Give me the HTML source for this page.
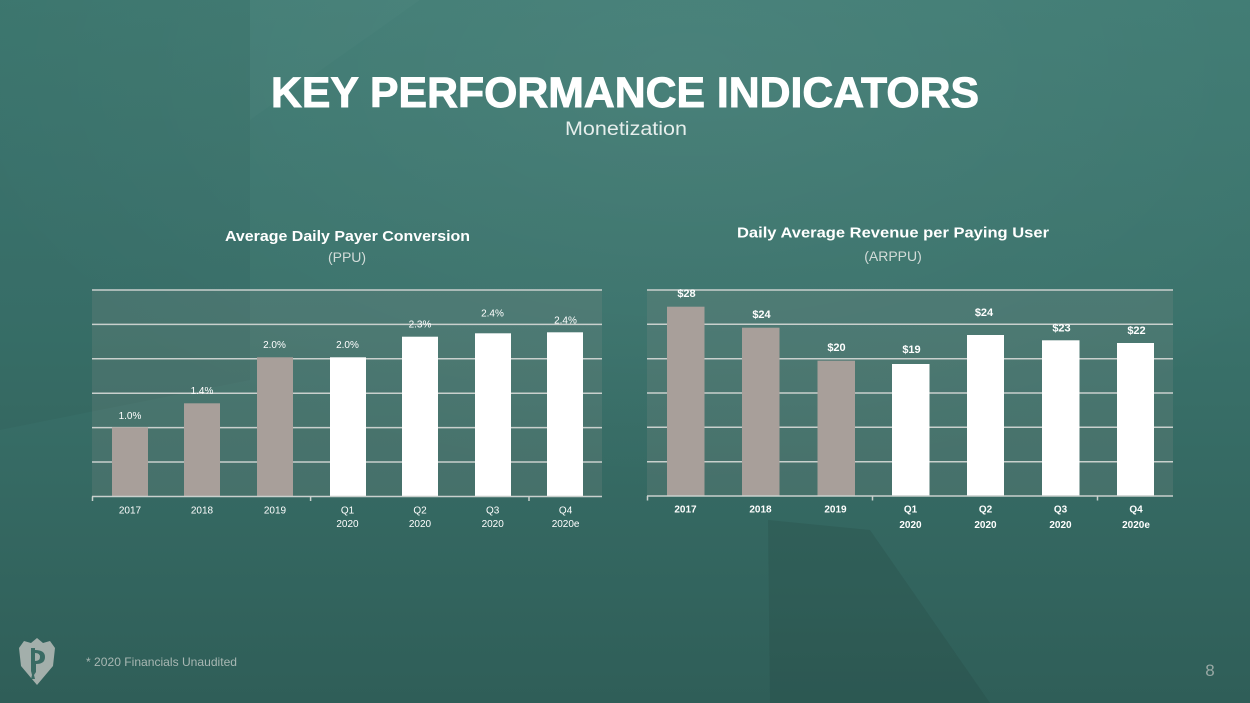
<!DOCTYPE html>
<html>
<head>
<meta charset="utf-8">
<style>
  html,body{margin:0;padding:0;background:#3a716a;}
  body{width:1250px;height:703px;overflow:hidden;}
  svg{display:block;}
  text{font-family:"Liberation Sans",Arial,sans-serif;}
</style>
</head>
<body>
<svg width="1250" height="703" viewBox="0 0 1250 703" xmlns="http://www.w3.org/2000/svg">
  <defs>
    <linearGradient id="bg" x1="0" y1="0" x2="0" y2="1">
      <stop offset="0" stop-color="#3f7b73"/>
      <stop offset="0.45" stop-color="#3a726b"/>
      <stop offset="1" stop-color="#2f5e58"/>
    </linearGradient>
    <radialGradient id="glow" cx="0.55" cy="0.1" r="0.6">
      <stop offset="0" stop-color="#ffffff" stop-opacity="0.06"/>
      <stop offset="1" stop-color="#ffffff" stop-opacity="0"/>
    </radialGradient>
  </defs>

  <!-- background -->
  <rect x="0" y="0" width="1250" height="703" fill="url(#bg)"/>
  <rect x="0" y="0" width="1250" height="703" fill="url(#glow)"/>
  <polygon points="0,0 250,0 250,380 0,430" fill="#000" opacity="0.035"/>
  <polygon points="768,520 870,530 990,703 770,703" fill="#1f3b38" opacity="0.18"/>
  <polygon points="250,0 420,0 250,120" fill="#ffffff" opacity="0.02"/>

  <!-- Title -->
  <text x="625" y="107" font-size="43" font-weight="bold" fill="#ffffff" stroke="#ffffff" stroke-width="0.9" text-anchor="middle" textLength="708" lengthAdjust="spacingAndGlyphs">KEY PERFORMANCE INDICATORS</text>
  <text x="626" y="135" font-size="19" fill="#e6eeec" text-anchor="middle" textLength="122" lengthAdjust="spacingAndGlyphs">Monetization</text>

  <!-- Chart titles -->
  <text x="347.5" y="241" font-size="15" font-weight="bold" fill="#ffffff" text-anchor="middle" textLength="245" lengthAdjust="spacingAndGlyphs">Average Daily Payer Conversion</text>
  <text x="347" y="262" font-size="14" fill="#d3dcd9" text-anchor="middle">(PPU)</text>
  <text x="893" y="237.5" font-size="15" font-weight="bold" fill="#ffffff" text-anchor="middle" textLength="312" lengthAdjust="spacingAndGlyphs">Daily Average Revenue per Paying User</text>
  <text x="893" y="261" font-size="14" fill="#d3dcd9" text-anchor="middle">(ARPPU)</text>

  <!-- LEFT CHART -->
  <rect x="92" y="290" width="510" height="206.5" fill="#8a8f8c" opacity="0.2"/>
  <g stroke="#c9d0cd" stroke-width="1.5">
    <line x1="92" y1="290" x2="602" y2="290"/>
    <line x1="92" y1="324.4" x2="602" y2="324.4"/>
    <line x1="92" y1="358.8" x2="602" y2="358.8"/>
    <line x1="92" y1="393.2" x2="602" y2="393.2"/>
    <line x1="92" y1="427.6" x2="602" y2="427.6"/>
    <line x1="92" y1="462" x2="602" y2="462"/>
  </g>
  <g>
    <rect x="112" y="427.3" width="36" height="69.1" fill="#a89f9a"/>
    <rect x="184" y="403.3" width="36" height="93.1" fill="#a89f9a"/>
    <rect x="257" y="357.3" width="36" height="139.1" fill="#a89f9a"/>
    <rect x="330" y="357.3" width="36" height="139.1" fill="#ffffff"/>
    <rect x="402" y="336.7" width="36" height="159.7" fill="#ffffff"/>
    <rect x="475" y="333.3" width="36" height="163.1" fill="#ffffff"/>
    <rect x="547" y="332.3" width="36" height="164.1" fill="#ffffff"/>
  </g>
  <g stroke="#c9d0cd" stroke-width="1.5">
    <line x1="92" y1="496.5" x2="602" y2="496.5"/>
    <line x1="92.5" y1="496.5" x2="92.5" y2="501"/>
    <line x1="310.6" y1="496.5" x2="310.6" y2="501"/>
    <line x1="529" y1="496.5" x2="529" y2="501"/>
  </g>
  <g font-size="10" fill="#ffffff" text-anchor="middle">
    <text x="130" y="419">1.0%</text>
    <text x="202" y="394">1.4%</text>
    <text x="274.5" y="348">2.0%</text>
    <text x="347.5" y="348">2.0%</text>
    <text x="420" y="327.5">2.3%</text>
    <text x="492.5" y="316.5">2.4%</text>
    <text x="565.5" y="323.5">2.4%</text>
  </g>
  <g font-size="10" fill="#ffffff" text-anchor="middle">
    <text x="130" y="513.5">2017</text>
    <text x="202" y="513.5">2018</text>
    <text x="275" y="513.5">2019</text>
    <text x="347.5" y="513.5">Q1</text>
    <text x="347.5" y="527">2020</text>
    <text x="420" y="513.5">Q2</text>
    <text x="420" y="527">2020</text>
    <text x="492.7" y="513.5">Q3</text>
    <text x="492.7" y="527">2020</text>
    <text x="565.6" y="513.5">Q4</text>
    <text x="565.6" y="527">2020e</text>
  </g>

  <!-- RIGHT CHART -->
  <rect x="647" y="290" width="526" height="206" fill="#8a8f8c" opacity="0.2"/>
  <g stroke="#c9d0cd" stroke-width="1.5">
    <line x1="647" y1="290" x2="1173" y2="290"/>
    <line x1="647" y1="324.3" x2="1173" y2="324.3"/>
    <line x1="647" y1="358.7" x2="1173" y2="358.7"/>
    <line x1="647" y1="393" x2="1173" y2="393"/>
    <line x1="647" y1="427.3" x2="1173" y2="427.3"/>
    <line x1="647" y1="461.7" x2="1173" y2="461.7"/>
  </g>
  <g>
    <rect x="667" y="306.7" width="37.5" height="189.3" fill="#a89f9a"/>
    <rect x="742" y="327.7" width="37.5" height="168.3" fill="#a89f9a"/>
    <rect x="817.5" y="360.7" width="37.5" height="135.3" fill="#a89f9a"/>
    <rect x="892" y="364" width="37.5" height="132" fill="#ffffff"/>
    <rect x="967" y="335" width="37" height="161" fill="#ffffff"/>
    <rect x="1042" y="340.3" width="37.5" height="155.7" fill="#ffffff"/>
    <rect x="1117" y="343" width="37" height="153" fill="#ffffff"/>
  </g>
  <g stroke="#c9d0cd" stroke-width="1.5">
    <line x1="647" y1="496" x2="1173" y2="496"/>
    <line x1="647.5" y1="496" x2="647.5" y2="500.5"/>
    <line x1="872.5" y1="496" x2="872.5" y2="500.5"/>
    <line x1="1097.5" y1="496" x2="1097.5" y2="500.5"/>
  </g>
  <g font-size="11" font-weight="bold" fill="#ffffff" text-anchor="middle">
    <text x="686.5" y="297">$28</text>
    <text x="761.5" y="318">$24</text>
    <text x="836.5" y="351">$20</text>
    <text x="911.5" y="353">$19</text>
    <text x="984" y="316">$24</text>
    <text x="1061.5" y="331.5">$23</text>
    <text x="1136.5" y="334">$22</text>
  </g>
  <g font-size="10" font-weight="bold" fill="#ffffff" text-anchor="middle">
    <text x="685.5" y="512.5">2017</text>
    <text x="760.5" y="512.5">2018</text>
    <text x="835.5" y="512.5">2019</text>
    <text x="910.5" y="512.5">Q1</text>
    <text x="910.5" y="528">2020</text>
    <text x="985.5" y="512.5">Q2</text>
    <text x="985.5" y="528">2020</text>
    <text x="1060.5" y="512.5">Q3</text>
    <text x="1060.5" y="528">2020</text>
    <text x="1136" y="512.5">Q4</text>
    <text x="1136" y="528">2020e</text>
  </g>

  <!-- Footer logo -->
  <polygon points="19,648 24,641 31,643 37,638 43,643 50,641 55,648 53,666 37,685 21,666" fill="#a3afab"/>
  <path d="M31,648 L35,648 L35,650 Q45,650 45,657 Q45,664 36,664 L36,672 L34,675 L35,679 L31,679 L32,675 L31,671 Z M35,653 L35,661 Q40,661 40,657 Q40,653 35,653 Z" fill="#3a6b64" fill-rule="evenodd"/>

  <text x="86" y="666" font-size="12" fill="#a8b7b3" textLength="151" lengthAdjust="spacingAndGlyphs">* 2020 Financials Unaudited</text>
  <text x="1210" y="676" font-size="17" fill="#98a8a4" text-anchor="middle">8</text>
</svg>
</body>
</html>
